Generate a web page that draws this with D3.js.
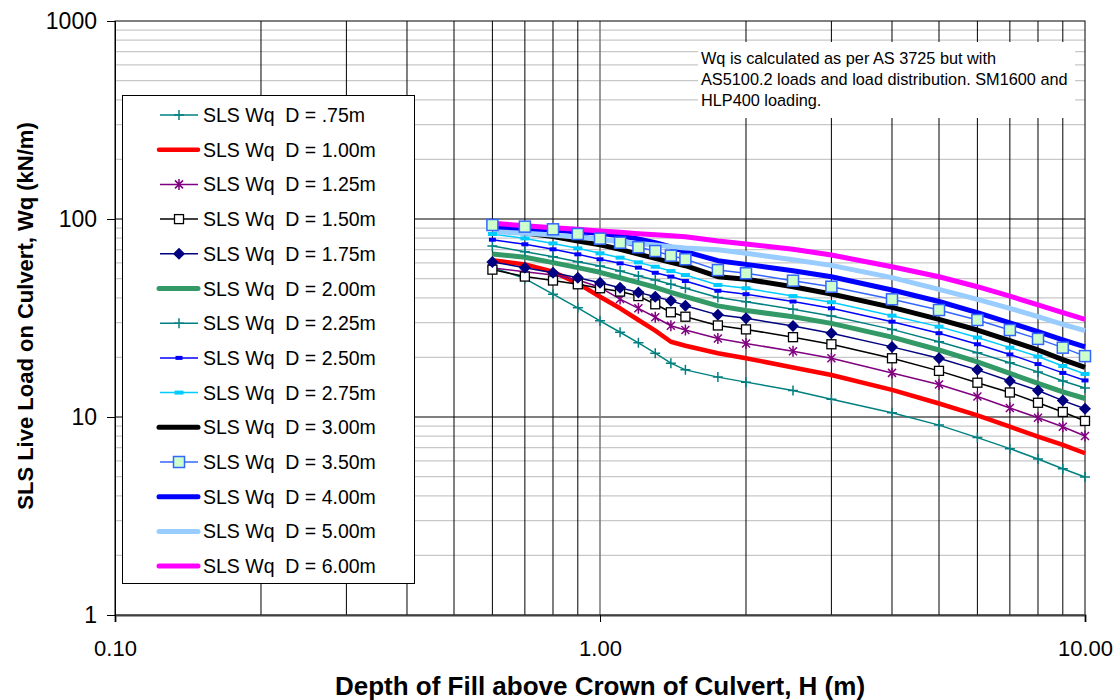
<!DOCTYPE html>
<html>
<head>
<meta charset="utf-8">
<script src="https://cdn.jsdelivr.net/npm/d3@7"></script>
<style>
  body { margin: 0; background: #fff; }
  text { font-family: "Liberation Sans", Arial, sans-serif; }
</style>
</head>
<body>
<div id="chart"></div>
<script>
//***************** data *******************/
// depth of fill H (m)
var depths = [0.6, 0.7, 0.8, 0.9, 1.0, 1.1, 1.2, 1.3, 1.4, 1.5, 1.75, 2.0, 2.5, 3.0, 4.0, 5.0, 6.0, 7.0, 8.0, 9.0, 10.0];

// SLS Wq (kN/m) for each culvert size D
var wqD075 = [57, 50, 41.7, 35.6, 30.6, 26.8, 23.7, 21.0, 18.7, 17.3, 15.9, 15.0, 13.6, 12.3, 10.5, 9.1, 7.87, 6.92, 6.14, 5.48, 4.98];
var wqD100 = [62, 59, 54.2, 47.3, 40.5, 35.4, 30.9, 27.3, 24.0, 22.9, 21.0, 19.8, 17.8, 16.3, 13.7, 11.7, 10.2, 8.93, 7.96, 7.23, 6.56];
var wqD125 = [56.5, 54.2, 52.1, 49.2, 45.2, 39.4, 35.4, 31.9, 28.9, 27.5, 24.9, 23.5, 21.5, 19.8, 16.7, 14.6, 12.7, 11.1, 9.92, 8.93, 8.02];
var wqD150 = [55.5, 51.2, 48.9, 46.8, 44.7, 43.0, 40.8, 37.1, 33.8, 32.1, 29.0, 27.7, 25.3, 23.3, 19.8, 17.1, 14.9, 13.3, 11.8, 10.6, 9.55];
var wqD175 = [60.6, 56.8, 53.5, 50.5, 47.7, 45.0, 42.6, 40.5, 38.7, 36.5, 32.8, 31.5, 28.8, 26.5, 22.6, 19.8, 17.3, 15.2, 13.6, 12.1, 11.0];
var wqD200 = [66.5, 64.1, 60.2, 56.8, 53.8, 50.5, 47.7, 45.2, 42.6, 40.5, 36.4, 34.5, 32.1, 29.7, 25.3, 21.8, 19.0, 16.6, 14.8, 13.4, 12.4];
var wqD225 = [73, 68.4, 64.5, 60.9, 57.9, 54.6, 51.5, 49.2, 46.8, 44.7, 40.1, 38.2, 35.0, 32.4, 27.7, 24.0, 21.1, 18.8, 16.9, 15.2, 14.0];
var wqD250 = [78.6, 74.5, 70.3, 66.3, 62.6, 59.7, 56.8, 53.5, 51.2, 48.6, 43.4, 41.7, 38.3, 35.4, 30.3, 26.5, 23.3, 20.7, 18.5, 16.7, 15.3];
var wqD275 = [84.0, 79.8, 75.3, 71.1, 67.1, 63.8, 60.4, 57.4, 54.6, 52.1, 46.4, 44.7, 40.8, 38.0, 32.5, 28.6, 25.2, 22.4, 20.2, 18.1, 16.5];
var wqD300 = [88, 85, 81.5, 77.4, 74.0, 70.3, 66.5, 63.3, 60.4, 58.1, 51.1, 49.6, 45.5, 41.8, 35.8, 31.1, 27.5, 24.3, 21.8, 19.5, 17.8];
var wqD350 = [93.3, 91.5, 88.7, 84.0, 79.6, 75.9, 72.0, 68.9, 65.3, 62.6, 55.2, 53.2, 48.8, 45.5, 39.3, 34.7, 30.9, 27.5, 24.8, 22.4, 20.3];
var wqD400 = [90.3, 89.0, 87.7, 86.3, 84.7, 82.4, 79.2, 75.9, 72.2, 68.4, 61.6, 59.0, 54.8, 51.1, 43.8, 38.3, 33.7, 29.9, 27.0, 24.5, 22.6];
var wqD500 = [86.3, 84.7, 83.0, 80.8, 78.9, 76.7, 75.3, 73.9, 72.5, 71.4, 70.0, 67.1, 62.3, 58.3, 50.6, 44.1, 39.3, 35.4, 32.1, 29.4, 27.3];
var wqD600 = [95.1, 92.5, 90.3, 88.7, 87.0, 85.7, 84.3, 83.3, 82.3, 81.4, 77.4, 74.8, 70.3, 65.8, 57.4, 51.1, 45.5, 40.8, 36.8, 33.7, 31.1];

var seriesNames = ["SLS Wq  D = .75m", "SLS Wq  D = 1.00m", "SLS Wq  D = 1.25m", "SLS Wq  D = 1.50m",
  "SLS Wq  D = 1.75m", "SLS Wq  D = 2.00m", "SLS Wq  D = 2.25m", "SLS Wq  D = 2.50m", "SLS Wq  D = 2.75m",
  "SLS Wq  D = 3.00m", "SLS Wq  D = 3.50m", "SLS Wq  D = 4.00m", "SLS Wq  D = 5.00m", "SLS Wq  D = 6.00m"];
var seriesValues = [wqD075, wqD100, wqD125, wqD150, wqD175, wqD200, wqD225, wqD250, wqD275,
  wqD300, wqD350, wqD400, wqD500, wqD600];

var xTickValues = [0.1, 1, 10];
var yTickValues = [1, 10, 100, 1000];
var noteLines = ["Wq is calculated as per AS 3725 but with",
  "AS5100.2 loads and load distribution. SM1600 and",
  "HLP400 loading."];

//***************** styles *******************/
var styles = [
  {color: "#008080", width: 1.5, marker: "plus"},
  {color: "#ff0000", width: 4.5, marker: null},
  {color: "#800080", width: 1.5, marker: "star"},
  {color: "#000000", width: 1.5, marker: "openSquare"},
  {color: "#000080", width: 1.5, marker: "diamond"},
  {color: "#339966", width: 5, marker: null},
  {color: "#008080", width: 1.5, marker: "plus"},
  {color: "#0000ff", width: 1.5, marker: "dash"},
  {color: "#00ccff", width: 1.5, marker: "wideDash"},
  {color: "#000000", width: 5, marker: null},
  {color: "#3366ff", width: 1.5, marker: "greenSquare"},
  {color: "#0000ff", width: 5, marker: null},
  {color: "#99ccff", width: 5, marker: null},
  {color: "#ff00ff", width: 5, marker: null}
];

//************* set dimensions ***************/
var W = 1118, H = 700;
var plot = {left: 115, right: 1085, top: 21, bottom: 615};

var svg = d3.select("#chart").append("svg")
  .attr("width", W).attr("height", H);

//***************** scales *******************/
var x = d3.scaleLog().domain([0.1, 10]).range([plot.left, plot.right]);
var y = d3.scaleLog().domain([1, 1000]).range([plot.bottom, plot.top]);

function isMajor(v) { return Math.abs(Math.log10(v) - Math.round(Math.log10(v))) < 1e-6; }

//***************** gridlines *******************/
var grid = svg.append("g");
grid.selectAll("line.h")
  .data(y.ticks().filter(function(d) { return d > 1 && d < 1000; }))
  .enter().append("line")
    .attr("x1", plot.left).attr("x2", plot.right)
    .attr("y1", function(d) { return y(d); }).attr("y2", function(d) { return y(d); })
    .attr("stroke", function(d) { return isMajor(d) ? "#555" : "#c8c8c8"; })
    .attr("stroke-width", function(d) { return isMajor(d) ? 1.5 : 1.2; });

grid.selectAll("line.v")
  .data(x.ticks().filter(function(d) { return d > 0.1 && d < 10; }))
  .enter().append("line")
    .attr("y1", plot.top).attr("y2", plot.bottom)
    .attr("x1", function(d) { return x(d); }).attr("x2", function(d) { return x(d); })
    .attr("stroke", function(d) { return isMajor(d) ? "#777" : "#000"; })
    .attr("stroke-width", function(d) { return isMajor(d) ? 1.5 : 1; });

// plot border
svg.append("rect")
  .attr("x", plot.left).attr("y", plot.top)
  .attr("width", plot.right - plot.left).attr("height", plot.bottom - plot.top)
  .attr("fill", "none").attr("stroke", "#000").attr("stroke-width", 1);

//***************** note box *******************/
svg.append("rect")
  .attr("x", 698).attr("y", 42).attr("width", 377).attr("height", 76)
  .attr("fill", "#fff");
svg.append("g").selectAll("text")
  .data(noteLines)
  .enter().append("text")
    .attr("x", 701)
    .attr("y", function(d, i) { return 63.5 + i * 21.3; })
    .attr("font-size", "16.3px")
    .attr("fill", "#000")
    .text(function(d) { return d; });

//***************** axes *******************/
var xAxis = svg.append("g")
  .attr("transform", "translate(0," + plot.bottom + ")")
  .call(d3.axisBottom(x).tickValues(xTickValues).tickSize(7).tickPadding(18)
    .tickFormat(d3.format(".2f")));
xAxis.select(".domain").attr("stroke", "#404040").attr("stroke-width", 2);
xAxis.selectAll("text").attr("font-size", "22px").attr("fill", "#000");

var yAxis = svg.append("g")
  .attr("transform", "translate(" + plot.left + ",0)")
  .call(d3.axisLeft(y).tickValues(yTickValues).tickSize(8).tickPadding(10)
    .tickFormat(d3.format("d")));
yAxis.select(".domain").attr("stroke", "#000");
yAxis.selectAll("text").attr("font-size", "23px").attr("fill", "#000");

//***************** lines *******************/
var line = d3.line()
  .x(function(d) { return x(d[0]); })
  .y(function(d) { return y(d[1]); });

var series = seriesValues.map(function(vals, i) {
  return {name: seriesNames[i], style: styles[i], points: depths.map(function(h, j) { return [h, vals[j]]; })};
});

svg.append("g").selectAll("path")
  .data(series)
  .enter().append("path")
    .attr("d", function(d) { return line(d.points); })
    .attr("fill", "none")
    .attr("stroke", function(d) { return d.style.color; })
    .attr("stroke-width", function(d) { return d.style.width; })
    .attr("stroke-linejoin", "round");

//***************** markers *******************/
function drawMarker(g, type, color) {
  if (type == "plus") {
    g.append("path").attr("d", "M-5,0H5M0,-5V5").attr("stroke", color).attr("stroke-width", 1.5);
  } else if (type == "star") {
    g.append("path").attr("d", "M-4,-4L4,4M-4,4L4,-4M0,-5.5V5.5").attr("stroke", color).attr("stroke-width", 1.5);
  } else if (type == "openSquare") {
    g.append("rect").attr("x", -4.5).attr("y", -4.5).attr("width", 9).attr("height", 9)
      .attr("fill", "#fff").attr("stroke", color).attr("stroke-width", 1.3);
  } else if (type == "diamond") {
    g.append("path").attr("d", "M0,-6L6,0L0,6L-6,0Z").attr("fill", color);
  } else if (type == "dash") {
    g.append("rect").attr("x", -3.5).attr("y", -2).attr("width", 7).attr("height", 4).attr("fill", color);
  } else if (type == "wideDash") {
    g.append("rect").attr("x", -4.5).attr("y", -2).attr("width", 9).attr("height", 4).attr("fill", color);
  } else if (type == "greenSquare") {
    g.append("rect").attr("x", -5.5).attr("y", -5.5).attr("width", 11).attr("height", 11)
      .attr("fill", "#ccffcc").attr("stroke", color).attr("stroke-width", 1.5);
  }
}

var markerLayer = svg.append("g");
series.forEach(function(s) {
  if (!s.style.marker) return;
  s.points.forEach(function(p) {
    var g = markerLayer.append("g").attr("transform", "translate(" + x(p[0]) + "," + y(p[1]) + ")");
    drawMarker(g, s.style.marker, s.style.color);
  });
});

//***************** legend *******************/
var legend = svg.append("g");
legend.append("rect")
  .attr("x", 122.5).attr("y", 95.5).attr("width", 292).attr("height", 488)
  .attr("fill", "#fff").attr("stroke", "#000").attr("stroke-width", 1);

series.forEach(function(s, i) {
  var cy = 115 + i * 34.7;
  var row = legend.append("g");
  row.append("line")
    .attr("x1", s.style.width > 2 ? 159 : 160).attr("x2", 198)
    .attr("y1", cy).attr("y2", cy)
    .attr("stroke", s.style.color).attr("stroke-width", s.style.width)
    .attr("stroke-linecap", s.style.width > 2 ? "round" : "butt");
  if (s.style.marker) {
    drawMarker(row.append("g").attr("transform", "translate(179," + cy + ")"), s.style.marker, s.style.color);
  }
  row.append("text")
    .attr("x", 203).attr("y", cy).attr("dy", "0.36em")
    .attr("font-size", "19.5px").attr("fill", "#000")
    .style("white-space", "pre")
    .text(s.name);
});

//***************** axis titles *******************/
svg.append("text")
  .attr("x", 600).attr("y", 695)
  .attr("text-anchor", "middle")
  .attr("font-size", "26px").attr("font-weight", "bold")
  .text("Depth of Fill above Crown of Culvert, H (m)");

svg.append("text")
  .attr("transform", "translate(33,316) rotate(-90)")
  .attr("text-anchor", "middle")
  .attr("font-size", "22px").attr("font-weight", "bold")
  .text("SLS Live Load on Culvert, Wq (kN/m)");
</script>
</body>
</html>
